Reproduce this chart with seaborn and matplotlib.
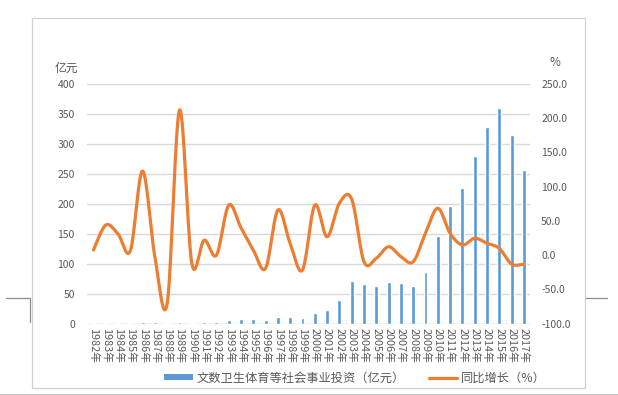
import numpy as np
import pandas as pd
import matplotlib
matplotlib.use("Agg")
import matplotlib.pyplot as plt
from matplotlib.lines import Line2D
from matplotlib.patches import Patch, Rectangle
import seaborn as sns

years = [f"{y}年" for y in range(1982, 2018)]
invest = [0.7, 1.0, 1.3, 1.4, 3.1, 3.1, 0.7, 2.2, 1.9, 2.4, 2.4, 6.0, 8.3, 8.3,
          7.0, 10.5, 12.0, 10.0, 17.3, 22.8, 39.0, 70.6, 65.6, 62.2, 70.0, 67.8,
          63.4, 86.0, 145.6, 197.2, 226.0, 280.5, 329.0, 360.0, 315.6, 256.0]
growth = [7.6, 44, 31, 6.6, 123, -3, -70, 212, -12, 22, 0, 73, 40, 7.6, -19,
          66, 17, -21.6, 73, 27, 76, 82, -9.5, -4.5, 12.4, -2, -9.5, 32, 68.5,
          32, 15, 24.7, 17.4, 10, -13, -13]
left_ticks = [0, 50, 100, 150, 200, 250, 300, 350, 400]
right_ticks = [-100, -50, 0, 50, 100, 150, 200, 250]
bar_label = "文数卫生体育等社会事业投资（亿元）"
line_label = "同比增长（%）"

BLUE = "#5B9BD5"
ORANGE = "#ED7D31"
GRID = "#D9D9D9"
TXT = "#595959"

sns.set_theme(style="white")
plt.rcParams['font.family'] = ['Noto Sans CJK SC', 'DejaVu Sans']

W, H = 618, 395
fig = plt.figure(figsize=(W / 100, H / 100), dpi=100)

def fx(px):
    return px / W

def fy(py):
    return 1 - py / H

ax_l, ax_r, ax_t, ax_b = 87.3, 530.0, 84.0, 323.7
ax = fig.add_axes([fx(ax_l), fy(ax_b), fx(ax_r - ax_l), (ax_b - ax_t) / H])

df = pd.DataFrame({"year": years, "invest": invest})
sns.barplot(data=df, x="year", y="invest", color=BLUE, width=0.32,
            saturation=1, ax=ax, zorder=2)
ax.set_ylim(0, 400)
ax.set_xlim(-0.5, len(years) - 0.5)
ax.set_yticks(left_ticks)
ax.set_yticklabels([str(t) for t in left_ticks])
ax.yaxis.grid(True, color=GRID, linewidth=1.0, zorder=0)
ax.set_axisbelow(True)
ax.set_xlabel("")
ax.set_ylabel("")
for s in ax.spines.values():
    s.set_visible(False)
ax.tick_params(axis='y', length=0, pad=9, labelsize=7.5, labelcolor=TXT)
ax.tick_params(axis='x', length=0, pad=3, labelsize=7.8, labelcolor=TXT)
for lab in ax.get_xticklabels():
    lab.set_rotation(-90)
    lab.set_ha('center')
    lab.set_va('top')
ax.axhline(0, color=GRID, linewidth=1.0, zorder=1)

# smoothed line (Catmull-Rom -> Bezier, like Excel's smoothed line)
x = np.arange(len(growth), dtype=float)
y = np.array(growth, dtype=float)
xs, ys = [], []
n = len(x)
for i in range(n - 1):
    p0 = np.array([x[max(i - 1, 0)], y[max(i - 1, 0)]])
    p1 = np.array([x[i], y[i]])
    p2 = np.array([x[i + 1], y[i + 1]])
    p3 = np.array([x[min(i + 2, n - 1)], y[min(i + 2, n - 1)]])
    c1 = p1 + (p2 - p0) / 6
    c2 = p2 - (p3 - p1) / 6
    t = np.linspace(0, 1, 30)[:, None]
    pts = ((1 - t) ** 3) * p1 + 3 * ((1 - t) ** 2) * t * c1 + 3 * (1 - t) * t ** 2 * c2 + t ** 3 * p2
    xs.extend(pts[:, 0])
    ys.extend(pts[:, 1])

ax2 = ax.twinx()
ax2.plot(xs, ys, color=ORANGE, linewidth=2.3, solid_capstyle='round', zorder=3)
ax2.set_ylim(-100, 250)
ax2.set_yticks(right_ticks)
ax2.set_yticklabels([f"{t:.1f}" for t in right_ticks])
ax2.tick_params(axis='y', length=0, pad=8, labelsize=7.5, labelcolor=TXT)
ax2.grid(False)
for s in ax2.spines.values():
    s.set_visible(False)
ax2.set_xlim(-0.5, len(years) - 0.5)

fig.text(fx(66), fy(68), "亿元", ha='center', va='center', fontsize=8.5, color=TXT)
fig.text(fx(555), fy(63), "%", ha='center', va='center', fontsize=8.5, color=TXT)

handles = [Patch(facecolor=BLUE, edgecolor='none'),
           Line2D([0], [0], color=ORANGE, linewidth=2.3)]
leg = fig.legend(handles, [bar_label, line_label], loc='center',
                 bbox_to_anchor=(fx(355), fy(378)), ncol=2, frameon=False,
                 fontsize=8.8, handlelength=2.3, handleheight=0.45,
                 columnspacing=2.0, handletextpad=0.3, labelcolor=TXT)

# chart frame and page marks
fig.add_artist(Rectangle((fx(32), fy(388)), fx(585 - 32), (388 - 18) / H,
                         fill=False, edgecolor="#D0D0D0", linewidth=0.9,
                         transform=fig.transFigure))
mark = "#8C8C8C"
fig.add_artist(Line2D([fx(6), fx(29.5)], [fy(298), fy(298)], color=mark, lw=0.9))
fig.add_artist(Line2D([fx(29.5), fx(29.5)], [fy(298), fy(322)], color=mark, lw=0.9))
fig.add_artist(Line2D([fx(586), fx(607)], [fy(298), fy(298)], color=mark, lw=0.9))
fig.add_artist(Line2D([0, 1], [fy(393.5), fy(393.5)], color="#C8C8C8", lw=0.9))

fig.savefig("out.png", dpi=100)
